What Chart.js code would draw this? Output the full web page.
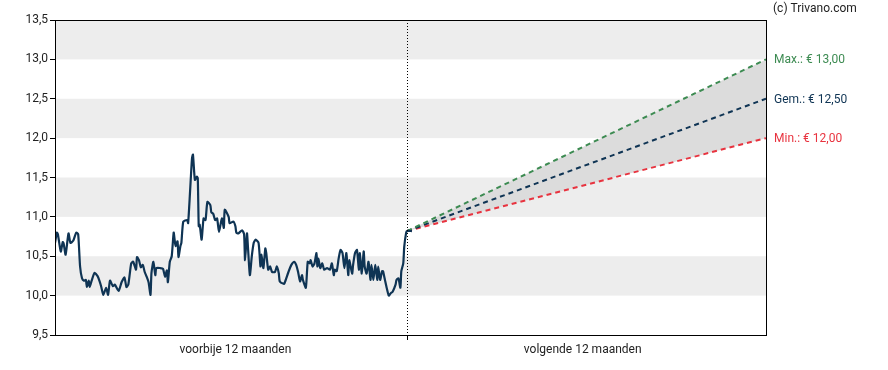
<!DOCTYPE html>
<html>
<head>
<meta charset="utf-8">
<script src="https://cdn.jsdelivr.net/npm/chart.js@4"></script>
<style>
  html, body { margin: 0; padding: 0; background: #fff; }
  #wrap { width: 888px; height: 370px; }
</style>
</head>
<body>
<div id="wrap"><canvas id="koersChart" width="888" height="370"></canvas></div>
<script>
// koers voorbije 12 maanden: dag (sinds start) en slotkoers
var histDays = [
  0, 2, 3, 6, 8, 9, 11, 14, 16, 19,
  22, 24, 26, 28, 30, 32, 33, 35, 36, 38,
  41, 44, 46, 48, 50, 53, 55, 57, 60, 62,
  66, 69, 72, 74, 76, 79, 81, 84, 85, 87,
  89, 91, 93, 95, 97, 99, 100, 102, 104, 105,
  109, 112, 114, 116, 117, 119, 121, 123, 124, 125,
  127, 128, 130, 131, 133, 137, 138, 140, 142, 143,
  145, 147, 148, 149, 150, 152, 154, 156, 158, 161,
  162, 164, 166, 168, 170, 173, 175, 176,
  180, 181, 185, 187, 188, 190, 194, 196, 197, 199,
  200, 202, 204, 206, 208, 211, 213, 214, 216, 218,
  219, 221, 223, 225, 228, 230, 232, 233, 237, 238,
  242, 245, 248, 250, 252, 254, 256, 257, 260, 262,
  264, 265, 267, 269, 271, 272, 273, 275, 277, 279,
  282, 285, 287, 289, 290, 292, 294, 296, 298, 300,
  302, 304, 305, 308, 309, 311, 313, 315, 316, 318,
  320, 321, 323, 325, 327, 328, 330, 332, 334, 335,
  337, 339, 340, 342, 344, 346, 348, 350, 353, 354,
  356, 358, 359, 361, 362, 364, 365, 370
];
var histValues = [
  10.67, 10.80, 10.78, 10.56, 10.68, 10.66, 10.52, 10.79, 10.67, 10.70,
  10.80, 10.78, 10.37, 10.22, 10.19, 10.20, 10.11, 10.19, 10.11, 10.19,
  10.29, 10.25, 10.19, 10.11, 10.01, 10.10, 10.01, 10.19, 10.12, 10.14,
  10.06, 10.17, 10.23, 10.11, 10.14, 10.41, 10.43, 10.33, 10.49, 10.45,
  10.36, 10.39, 10.30, 10.24, 10.17, 10.01, 10.29, 10.43, 10.26, 10.35,
  10.35, 10.34, 10.24, 10.32, 10.17, 10.43, 10.50, 10.80, 10.71, 10.63,
  10.69, 10.49, 10.63, 10.67, 10.94, 10.96, 10.92, 11.32, 11.74, 11.79,
  11.47, 11.51, 11.49, 10.88, 10.90, 10.71, 10.98, 10.96, 11.19, 11.15,
  11.06, 11.04, 10.96, 10.98, 10.81, 10.98, 10.86, 11.09,
  11.00, 10.92, 10.94, 10.88, 10.80, 10.79, 10.83, 10.78, 10.45, 10.79,
  10.62, 10.26, 10.50, 10.67, 10.71, 10.67, 10.37, 10.52, 10.35, 10.60,
  10.54, 10.33, 10.37, 10.30, 10.30, 10.37, 10.28, 10.18, 10.15, 10.16,
  10.30, 10.39, 10.43, 10.39, 10.30, 10.18, 10.26, 10.20, 10.10, 10.43,
  10.41, 10.45, 10.37, 10.41, 10.54, 10.37, 10.47, 10.35, 10.41, 10.33,
  10.35, 10.33, 10.41, 10.26, 10.33, 10.31, 10.47, 10.58, 10.54, 10.35,
  10.54, 10.26, 10.45, 10.28, 10.39, 10.54, 10.58, 10.33, 10.54, 10.28,
  10.56, 10.37, 10.28, 10.43, 10.20, 10.39, 10.20, 10.39, 10.20, 10.37,
  10.20, 10.31, 10.31, 10.20, 10.09, 10.00, 10.03, 10.05, 10.14, 10.20,
  10.22, 10.10, 10.31, 10.41, 10.62, 10.80, 10.82, 10.82
];

// koersdoelen volgende 12 maanden
var startKoers = 10.82;
var doelMax = 13.00;
var doelGem = 12.50;
var doelMin = 12.00;

var periodLabels = ['voorbije 12 maanden', 'volgende 12 maanden'];
var targetLabels = ['Max.: € 13,00', 'Gem.: € 12,50', 'Min.: € 12,00'];
var copyright = '(c) Trivano.com';

var vandaag = 365; // scheiding verleden / prognose (dagen)
var xEnd = 737;    // einde van de prognose-as (dagen)

var histData = histValues.map(function(v, i) {
    return { x: histDays[i], y: v };
});
function prognose(doel) {
    return [{ x: vandaag, y: startKoers }, { x: xEnd, y: doel }];
}

var FONT = 'Roboto, "Noto Sans", sans-serif';
var kleurGroen = '#3d8b52';
var kleurNavy = '#0f3454';
var kleurRood = '#e8333f';

// achtergrondbanden, kader, scheidslijn en labels rechts
var decorPlugin = {
    id: 'decor',
    beforeDraw: function(chart) {
        var ctx = chart.ctx, a = chart.chartArea, y = chart.scales.y;
        ctx.save();
        ctx.fillStyle = '#ededed';
        [10.0, 11.0, 12.0, 13.0].forEach(function(v) {
            var top = y.getPixelForValue(v + 0.5);
            var bot = y.getPixelForValue(v);
            ctx.fillRect(a.left, top, a.right - a.left, bot - top);
        });
        ctx.restore();
    },
    afterDatasetsDraw: function(chart) {
        var ctx = chart.ctx, a = chart.chartArea, y = chart.scales.y, x = chart.scales.x;
        ctx.save();
        // scheidslijn
        var xd = Math.round(x.getPixelForValue(vandaag)) + 0.5;
        ctx.strokeStyle = '#000';
        ctx.lineWidth = 1;
        ctx.setLineDash([1, 2]);
        ctx.beginPath();
        ctx.moveTo(xd, a.top);
        ctx.lineTo(xd, a.bottom);
        ctx.stroke();
        ctx.setLineDash([]);
        // kader
        ctx.strokeRect(Math.round(a.left) + 0.5, Math.round(a.top) + 0.5,
            Math.round(a.right - a.left), Math.round(a.bottom - a.top));
        // labels rechts
        ctx.font = '12px ' + FONT;
        ctx.textBaseline = 'middle';
        ctx.textAlign = 'left';
        var kleuren = [kleurGroen, kleurNavy, kleurRood];
        [doelMax, doelGem, doelMin].forEach(function(v, i) {
            ctx.fillStyle = kleuren[i];
            ctx.fillText(targetLabels[i], a.right + 8, y.getPixelForValue(v) + 1);
        });
        ctx.fillStyle = '#222';
        ctx.fillText(copyright, a.right + 7, 9);
        ctx.restore();
    }
};

var ctx = document.getElementById('koersChart').getContext('2d');
var koersChart = new Chart(ctx, {
    type: 'line',
    data: {
        datasets: [{
            data: histData,
            borderColor: kleurNavy,
            borderWidth: 2.2,
            pointRadius: 0,
            tension: 0.2,
            fill: false
        }, {
            data: prognose(doelMax),
            borderColor: kleurGroen,
            borderWidth: 2,
            borderDash: [5, 4],
            pointRadius: 0,
            backgroundColor: '#dcdcdc',
            fill: '+2'
        }, {
            data: prognose(doelGem),
            borderColor: kleurNavy,
            borderWidth: 2,
            borderDash: [5, 4],
            pointRadius: 0,
            fill: false
        }, {
            data: prognose(doelMin),
            borderColor: kleurRood,
            borderWidth: 2,
            borderDash: [5, 4],
            pointRadius: 0,
            fill: false
        }]
    },
    options: {
        responsive: false,
        animation: false,
        layout: { padding: { left: 0, right: 122, top: 20, bottom: 0 } },
        plugins: {
            legend: { display: false },
            tooltip: { enabled: false },
            filler: { drawTime: 'beforeDatasetsDraw' }
        },
        scales: {
            x: {
                type: 'linear',
                min: 0,
                max: xEnd,
                afterBuildTicks: function(scale) {
                    scale.ticks = [{ value: 187 }, { value: vandaag }, { value: 547 }];
                },
                afterFit: function(scale) { scale.height = 35; },
                ticks: {
                    autoSkip: false,
                    maxRotation: 0,
                    padding: 3,
                    color: '#222',
                    font: { family: FONT, size: 12 },
                    callback: function(v) {
                        if (v === 187) return periodLabels[0];
                        if (v === 547) return periodLabels[1];
                        return '';
                    }
                },
                grid: {
                    drawOnChartArea: false,
                    tickLength: 5,
                    tickColor: function(c) {
                        return c.tick && c.tick.value === vandaag ? '#000' : 'rgba(0,0,0,0)';
                    }
                },
                border: { display: true, color: '#000' }
            },
            y: {
                min: 9.5,
                max: 13.5,
                afterFit: function(scale) { scale.width = 55; },
                ticks: {
                    stepSize: 0.5,
                    padding: 2,
                    color: '#222',
                    font: { family: FONT, size: 12 },
                    callback: function(v) { return v.toFixed(1).replace('.', ','); }
                },
                grid: {
                    drawOnChartArea: false,
                    tickLength: 5,
                    tickColor: '#000'
                },
                border: { display: true, color: '#000' }
            }
        }
    },
    plugins: [decorPlugin]
});
</script>
</body>
</html>
